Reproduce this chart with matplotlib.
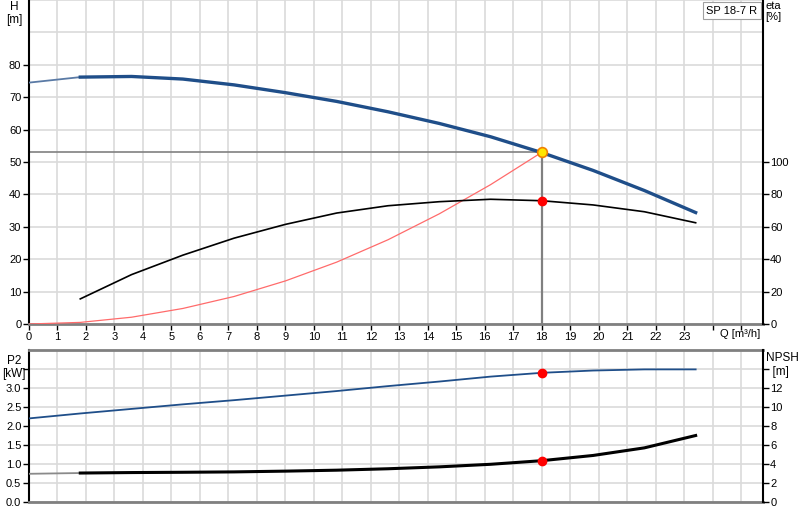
import numpy as np
import matplotlib.pyplot as plt
from matplotlib.transforms import blended_transform_factory

plt.rcParams['font.family'] = ['Liberation Sans', 'DejaVu Sans']
plt.rcParams['font.size'] = 8

# flow points (m3/h)
q = [0, 1.8, 3.6, 5.4, 7.2, 9.0, 10.8, 12.6, 14.4, 16.2, 18.0, 19.8, 21.6, 23.4]
# head H [m]
head = [74.5, 76.2, 76.4, 75.6, 73.8, 71.4, 68.7, 65.5, 61.9, 57.8, 52.9, 47.4, 41.2, 34.4]
# efficiency eta [%], from Q = 1.8
eta = [15.5, 30.5, 42.5, 53.0, 61.5, 68.5, 73.0, 75.5, 77.0, 76.1, 73.5, 69.3, 62.5]
# system curve (to duty point)
q_sys = [0, 1.8, 3.6, 5.4, 7.2, 9.0, 10.8, 12.6, 14.4, 16.2, 18.0]
h_sys = [0, 0.5, 2.1, 4.8, 8.5, 13.3, 19.1, 26.0, 34.0, 43.0, 53.0]
# power P2 [kW]
p2 = [2.2, 2.33, 2.45, 2.57, 2.68, 2.8, 2.92, 3.05, 3.17, 3.3, 3.4, 3.46, 3.49, 3.49]
# NPSH [m]
npsh = [2.97, 3.05, 3.1, 3.13, 3.17, 3.25, 3.35, 3.5, 3.7, 3.97, 4.35, 4.9, 5.7, 7.0]

q_duty = 18.0
h_duty = 53.0
eta_duty = 76.1
p2_duty = 3.4
npsh_duty = 4.35

blue = '#1f4e89'
gridc = '#dadada'

fig = plt.figure(figsize=(8, 5.2), dpi=100)
ax = fig.add_axes([0.03625, 0.3769, 0.917, 0.6231])
ax2 = ax.twinx()
bx = fig.add_axes([0.03625, 0.0346, 0.917, 0.2923])
bx2 = bx.twinx()

for a in (ax, bx):
    a.set_xlim(0, 25.75)
    a.set_xticks(range(0, 26))
    a.grid(True, color=gridc, lw=1.2)
    a.set_axisbelow(True)
    a.spines['left'].set_color('black')
    a.spines['left'].set_linewidth(1.5)
    a.spines['bottom'].set_color('#808080')
    a.spines['bottom'].set_linewidth(2)
    a.tick_params(length=4, width=1, pad=1.5, colors='black')
for a in (ax2, bx2):
    a.spines['right'].set_color('black')
    a.spines['right'].set_linewidth(1.5)
    a.tick_params(length=4, width=1, pad=1.5)
    for s in ('left', 'top', 'bottom'):
        a.spines[s].set_visible(False)
ax.spines['top'].set_visible(False)
ax.spines['right'].set_visible(False)
bx.spines['top'].set_color('#808080')
bx.spines['top'].set_linewidth(2)
bx.spines['right'].set_visible(False)

# top panel
ax.set_ylim(0, 100)
ax.set_yticks(range(0, 90, 10))
ax.set_yticks(range(0, 110, 10), minor=True)
ax.grid(True, which='minor', axis='y', color=gridc, lw=1.2)
ax.tick_params(axis='y', which='minor', length=0)
ax.set_xticklabels([str(i) if i <= 23 else '' for i in range(0, 26)])
ax2.set_ylim(0, 200)
ax2.set_yticks(range(0, 120, 20))

ax.plot(q[:2], head[:2], color='#5a7aa5', lw=1.3, zorder=3)
ax.plot(q[1:], head[1:], color=blue, lw=2.4, zorder=4)
ax.plot(q_sys, h_sys, color='#ff6b6b', lw=0.9, zorder=3)
ax2.plot(q[1:], eta, color='black', lw=1.2, zorder=3)
ax.plot([0, q_duty], [h_duty, h_duty], color='#808080', lw=1.2, zorder=2)
ax.plot([q_duty, q_duty], [0, h_duty], color='#808080', lw=1.6, zorder=2)
ax2.plot(q_duty, eta_duty, 'o', color='red', ms=6, zorder=5)
ax2.plot(q_duty, h_duty * 2, 'o', mfc='#ffe600', mec='#f08000', mew=1.2, ms=7, zorder=6)

tr = blended_transform_factory(ax.transData, ax.transAxes)
ax.text(24.95, -0.03, 'Q [m³/h]', transform=tr, ha='center', va='center', fontsize=8)
ax.text(-0.02, 0.998, 'H\n[m]', transform=ax.transAxes, ha='center', va='top', fontsize=8.5, linespacing=1.2)
ax.text(1.004, 0.998, 'eta\n[%]', transform=ax.transAxes, ha='left', va='top', fontsize=8, linespacing=1.2)
ax.text(0.993, 0.982, 'SP 18-7 R', transform=ax.transAxes, ha='right', va='top', fontsize=8,
        bbox=dict(boxstyle='square,pad=0.3', fc='white', ec='#a0a0a0', lw=0.8), zorder=10)

# bottom panel
bx.set_ylim(0, 4)
bx.set_yticks(np.arange(0, 4.0, 0.5))
bx.set_yticklabels(['0.0', '0.5', '1.0', '1.5', '2.0', '2.5', '3.0', ''])
bx.set_xticklabels([])
bx.tick_params(axis='x', length=0)
bx2.set_ylim(0, 16)
bx2.set_yticks(range(0, 16, 2))
bx2.set_yticklabels(['0', '2', '4', '6', '8', '10', '12', ''])

bx.plot(q, p2, color=blue, lw=1.3, zorder=3)
bx2.plot(q[:2], npsh[:2], color='#8a8a8a', lw=1.3, zorder=3)
bx2.plot(q[1:], npsh[1:], color='black', lw=2.2, zorder=4)
bx.plot(q_duty, p2_duty, 'o', color='red', ms=6, zorder=5)
bx2.plot(q_duty, npsh_duty, 'o', color='red', ms=6, zorder=5)

bx.text(-0.02, 0.97, 'P2\n[kW]', transform=bx.transAxes, ha='center', va='top', fontsize=8.5, linespacing=1.2)
bx.text(1.004, 0.985, 'NPSH\n  [m]', transform=bx.transAxes, ha='left', va='top', fontsize=8.5, linespacing=1.2)

fig.savefig('out.png', dpi=100)
